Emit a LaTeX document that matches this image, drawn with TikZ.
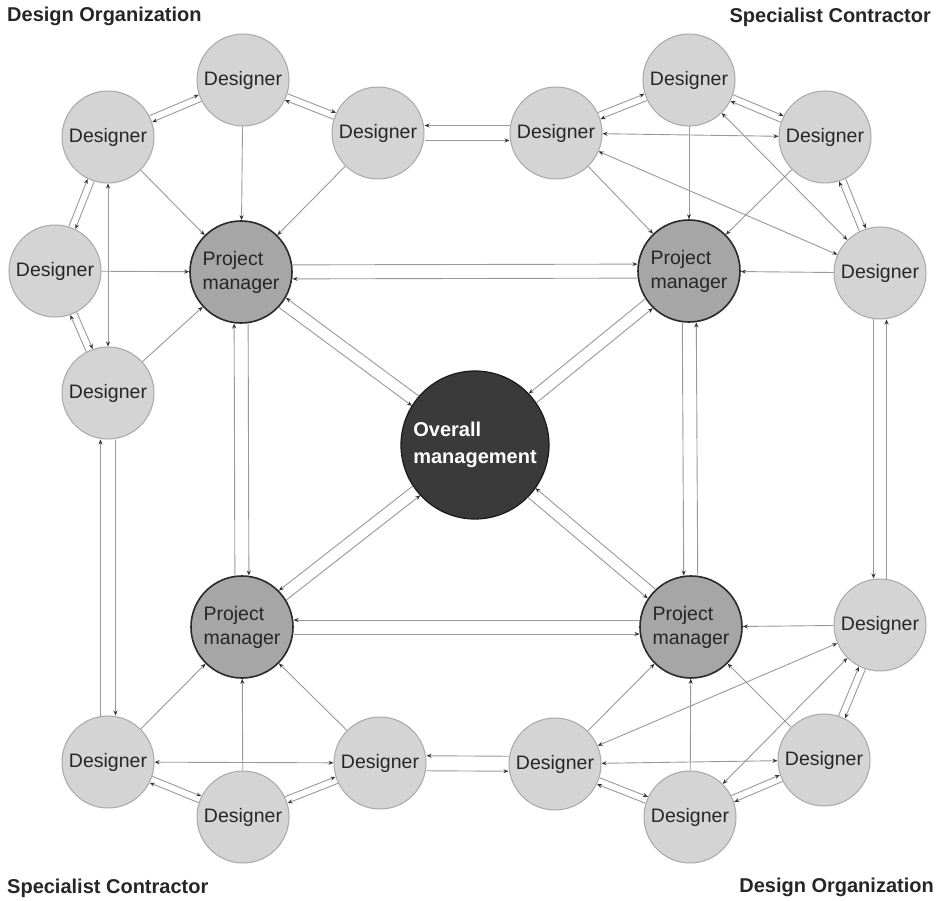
\documentclass[tikz,border=0pt]{standalone}
\usepackage{fontspec}
\setmainfont{Liberation Sans}
\usetikzlibrary{calc,arrows.meta}

\definecolor{desfill}{HTML}{D4D4D4}
\definecolor{desline}{HTML}{A8A8A8}
\definecolor{pmfill}{HTML}{A6A6A6}
\definecolor{pmline}{HTML}{2A2A2A}
\definecolor{omfill}{HTML}{3A3A3A}
\definecolor{linkgrey}{HTML}{999999}
\definecolor{tipgrey}{HTML}{333333}
\definecolor{txt}{HTML}{262626}

% two parallel links between #1 and #2, offset #3 from the centre line;
% the one on the left of #1->#2 points to #2, the other points to #1;
% #4 and #5 are the border distances of #1 and #2
\newcommand\twoway[5]{%
  \draw[link,->,shorten <=#4,shorten >=#5]
    ($(#1)!#3!90:(#2)$) -- ($(#2)!#3!-90:(#1)$);
  \draw[link,<-,shorten <=#4,shorten >=#5]
    ($(#1)!#3!-90:(#2)$) -- ($(#2)!#3!90:(#1)$);}
\newcommand\rD{46.5pt}
\newcommand\rP{51.5pt}
\newcommand\rO{74pt}

\begin{document}
\begin{tikzpicture}[x=1pt,y=-1pt,
  >={Stealth[length=5pt,width=4pt,color=tipgrey]},
  designer/.style={circle,minimum size=92pt,inner sep=0pt,fill=desfill,
    draw=desline,line width=1pt,text=txt,font=\fontsize{19.5}{23}\selectfont},
  manager/.style={circle,minimum size=102pt,inner sep=0pt,fill=pmfill,
    draw=pmline,line width=1.6pt,text=txt,align=left,
    font=\fontsize{19.5}{24}\selectfont},
  overall/.style={circle,minimum size=148pt,inner sep=0pt,fill=omfill,
    draw=black!90,line width=1.2pt,text=white,align=left,
    font=\bfseries\fontsize{20}{27}\selectfont},
  link/.style={draw=linkgrey,line width=0.9pt},
  heading/.style={inner sep=0pt,text=txt,font=\bfseries\fontsize{20}{24}\selectfont}]

\useasboundingbox (0,0) rectangle (945,901);
\fill[white] (0,0) rectangle (945,901);

% headings
\node[heading,anchor=base west] (h1) at (7,22) {Design Organization};
\node[heading,anchor=base east] (h2) at (931,23) {Specialist Contractor};
\node[heading,anchor=base west] (h3) at (7,893) {Specialist Contractor};
\node[heading,anchor=base east] (h4) at (934,892) {Design Organization};

% centre
\node[overall] (om) at (475,445) {Overall\\management};

% project managers
\node[manager] (pa) at (241,272) {Project\\manager};
\node[manager] (pb) at (689,271) {Project\\manager};
\node[manager] (pc) at (242,627) {Project\\manager};
\node[manager] (pd) at (691,627) {Project\\manager};

% design organization, top left
\node[designer] (a1) at (243,80)  {Designer};
\node[designer] (a2) at (108,137) {Designer};
\node[designer] (a3) at (378,133) {Designer};
\node[designer] (a4) at (55,271)  {Designer};
\node[designer] (a5) at (108,393) {Designer};

% specialist contractor, top right
\node[designer] (b1) at (689,80)  {Designer};
\node[designer] (b2) at (556,133) {Designer};
\node[designer] (b3) at (825,137) {Designer};
\node[designer] (b4) at (880,273) {Designer};

% specialist contractor, bottom left
\node[designer] (c1) at (108,762) {Designer};
\node[designer] (c2) at (243,817) {Designer};
\node[designer] (c3) at (380,763) {Designer};

% design organization, bottom right
\node[designer] (d1) at (880,625) {Designer};
\node[designer] (d2) at (555,764) {Designer};
\node[designer] (d3) at (690,817) {Designer};
\node[designer] (d4) at (824,760) {Designer};

% top-left group
\twoway{a2}{a1}{3.5pt}{\rD}{\rD}
\twoway{a1}{a3}{3.5pt}{\rD}{\rD}
\twoway{a2}{a4}{3.5pt}{\rD}{\rD}
\twoway{a4}{a5}{3.5pt}{\rD}{\rD}
\draw[link,<->] (a2) -- (a5);
\foreach \n in {a1,a2,a3,a4,a5} \draw[link,->] (\n) -- (pa);

% top-right group
\twoway{b2}{b1}{3.5pt}{\rD}{\rD}
\twoway{b1}{b3}{3.5pt}{\rD}{\rD}
\twoway{b3}{b4}{3.5pt}{\rD}{\rD}
\draw[link,<->] (b2) -- (b3);
\draw[link,<->] (b2) -- (b4);
\draw[link,<->] (b1) -- (b4);
\foreach \n in {b1,b2,b3,b4} \draw[link,->] (\n) -- (pb);

% bottom-left group
\twoway{c1}{c2}{3.5pt}{\rD}{\rD}
\twoway{c2}{c3}{3.5pt}{\rD}{\rD}
\draw[link,<->] (c1) -- (c3);
\foreach \n in {c1,c2,c3} \draw[link,->] (\n) -- (pc);

% bottom-right group
\twoway{d2}{d3}{3.5pt}{\rD}{\rD}
\twoway{d3}{d4}{3.5pt}{\rD}{\rD}
\twoway{d4}{d1}{3.5pt}{\rD}{\rD}
\draw[link,<->] (d2) -- (d4);
\draw[link,<->] (d2) -- (d1);
\draw[link,<->] (d3) -- (d1);
\foreach \n in {d1,d2,d3,d4} \draw[link,->] (\n) -- (pd);

% links between the groups
\twoway{a3}{b2}{-7.5pt}{\rD}{\rD}
\twoway{a5}{c1}{7.5pt}{\rD}{\rD}
\twoway{b4}{d1}{-6.5pt}{\rD}{\rD}
\twoway{c3}{d2}{-7.5pt}{\rD}{\rD}

% links between the project managers
\twoway{pa}{pb}{7pt}{\rP}{\rP}
\twoway{pa}{pc}{7pt}{\rP}{\rP}
\twoway{pb}{pd}{-7pt}{\rP}{\rP}
\twoway{pc}{pd}{-7pt}{\rP}{\rP}

% links to overall management
\twoway{pa}{om}{-6pt}{\rP}{\rO}
\twoway{pb}{om}{-6pt}{\rP}{\rO}
\twoway{pc}{om}{-6pt}{\rP}{\rO}
\twoway{pd}{om}{-6pt}{\rP}{\rO}

\end{tikzpicture}
\end{document}
